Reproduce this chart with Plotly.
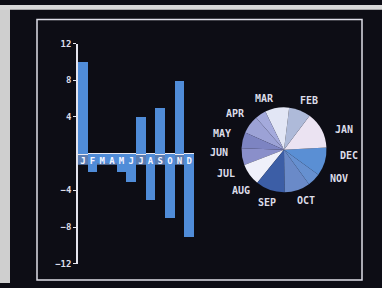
import math
import plotly.graph_objects as go

# ---- data ----
months = ["JAN", "FEB", "MAR", "APR", "MAY", "JUN",
          "JUL", "AUG", "SEP", "OCT", "NOV", "DEC"]
month_letters = ["J", "F", "M", "A", "M", "J", "J", "A", "S", "O", "N", "D"]
bar_values = [10, -2, -1, -1, -2, -3, 4, -5, 5, -7, 8, -9]
y_tick_vals = [-12, -8, -4, 4, 8, 12]
pie_values = [39, 50, 30, 33, 15, 25, 22, 23, 30, 40, 35, 18]
pie_colors = ["#5a8fd4", "#ebe3f2", "#aebad9", "#e2e6f5", "#a4aadc", "#9ca2d6",
              "#7d84c2", "#8a8fca", "#eff0fa", "#3c5ea6", "#6a8ac8", "#6690d0"]
pie_start_deg = 3  # math angle where JAN starts (counterclockwise)

W, H = 382, 288
TXT = "#dcdce8"
FONT = "DejaVu Sans Mono"


def px_x(x):
    return x / W


def px_y(y):
    return 1 - y / H


fig = go.Figure()

fig.add_trace(go.Bar(
    x=months, y=bar_values,
    marker=dict(color="#508cd8", line=dict(width=0)),
    xaxis="x", yaxis="y", showlegend=False,
))

# pie
pie_cx, pie_cy, pie_r = 284, 150, 44
fig.add_trace(go.Pie(
    labels=months, values=pie_values, sort=False,
    direction="counterclockwise", rotation=90 - pie_start_deg,
    marker=dict(colors=pie_colors, line=dict(width=0)),
    textinfo="none", hoverinfo="label",
    domain=dict(x=[px_x(pie_cx - pie_r), px_x(pie_cx + pie_r)],
                y=[px_y(pie_cy + pie_r), px_y(pie_cy - pie_r)]),
    showlegend=False,
))

annotations = []
total = sum(pie_values)
acc = 0
rx, ry = 65, 56
for name, v in zip(months, pie_values):
    mid = pie_start_deg + (acc + v / 2) / total * 360
    acc += v
    t = math.radians(mid)
    lx = pie_cx + rx * math.cos(t)
    ly = pie_cy - ry * math.sin(t)
    annotations.append(dict(
        x=px_x(lx), y=px_y(ly), xref="paper", yref="paper",
        text=name, showarrow=False, xanchor="center", yanchor="middle",
        font=dict(family=FONT, size=10, color=TXT, weight="bold"),
    ))

shapes = [
    # photo border strips
    dict(type="rect", xref="paper", yref="paper", x0=0, x1=px_x(10), y0=0, y1=1,
         fillcolor="#cfcfcf", line=dict(width=0), layer="below"),
    dict(type="rect", xref="paper", yref="paper", x0=0, x1=1, y0=px_y(5), y1=1,
         fillcolor="#d8d8d8", line=dict(width=0), layer="below"),
    # screen frame
    dict(type="rect", xref="paper", yref="paper",
         x0=px_x(37), x1=px_x(362), y0=px_y(285), y1=px_y(15),
         line=dict(color="#dedee8", width=1.5), fillcolor="rgba(0,0,0,0)"),
    # label band below zero line
    dict(type="rect", xref="x", yref="y", x0=-0.5, x1=11.5, y0=0, y1=-1.2,
         fillcolor="#5a7cb2", line=dict(width=0), layer="below"),
]

ydom = [px_y(268), px_y(40)]
fig.update_layout(
    width=W, height=H,
    margin=dict(l=0, r=0, t=0, b=0),
    paper_bgcolor="#0d0d15", plot_bgcolor="rgba(0,0,0,0)",
    bargap=0,
    xaxis=dict(
        domain=[px_x(78), px_x(194)],
        type="category", categoryorder="array", categoryarray=months,
        tickvals=months, ticktext=month_letters,
        anchor="free", position=(ydom[0] + ydom[1]) / 2,
        showline=False, showgrid=False, zeroline=False, ticks="",
        tickfont=dict(family=FONT, size=9, color="#f4f4ff", weight="bold"),
        ticklabelstandoff=0,
        layer="above traces",
    ),
    yaxis=dict(
        domain=ydom, range=[-12, 12],
        tickvals=y_tick_vals,
        showline=True, linecolor="#e4e4ee", linewidth=1.5,
        ticks="outside", ticklen=3, tickcolor="#e4e4ee", tickwidth=1,
        showgrid=False, zeroline=True, zerolinecolor="#e8e8f2", zerolinewidth=1.5,
        tickfont=dict(family=FONT, size=9, color=TXT, weight="bold"),
        layer="above traces",
    ),
    shapes=shapes,
    annotations=annotations,
)

fig.write_html(
    "out.html",
    config={"displayModeBar": False},
    post_script="document.body.style.margin='0';document.body.style.overflow='hidden';",
)
